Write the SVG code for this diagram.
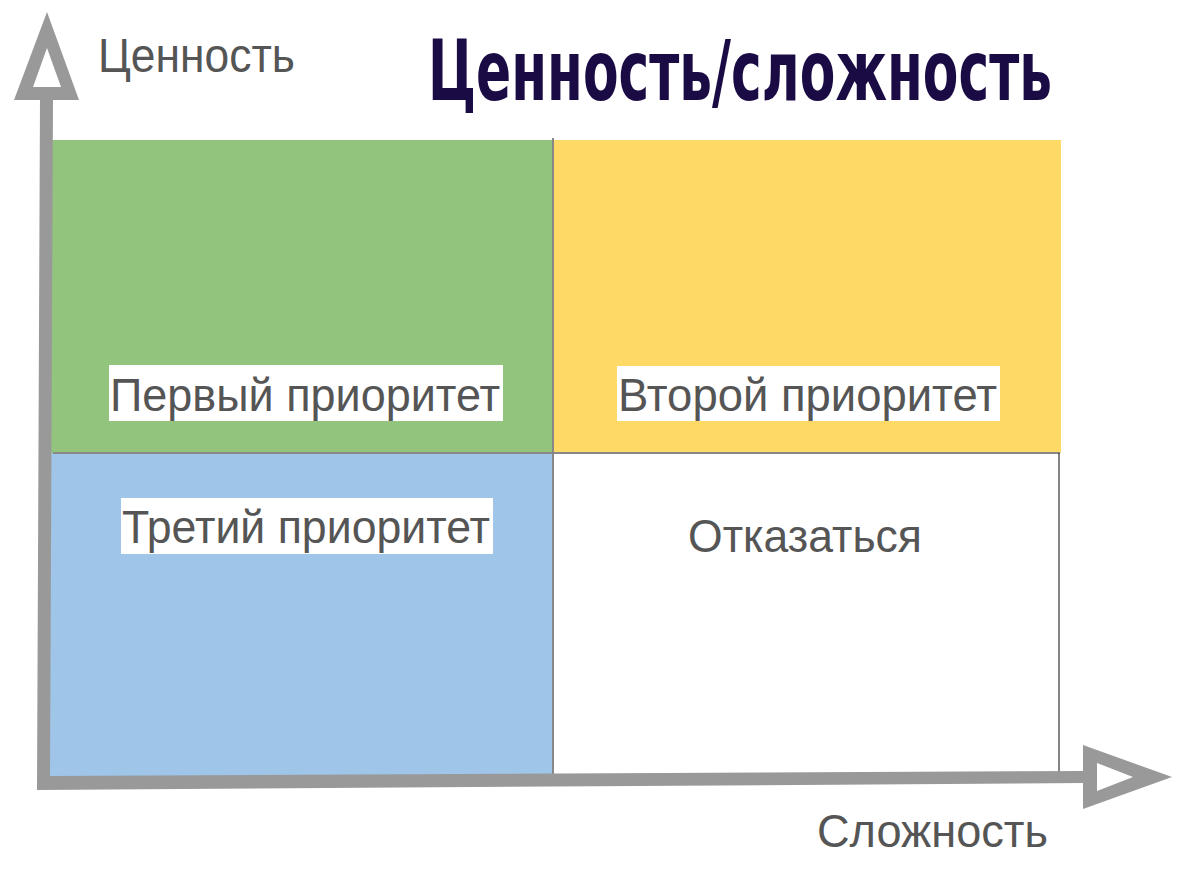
<svg xmlns="http://www.w3.org/2000/svg" width="1200" height="879" viewBox="0 0 1200 879">
<style>
.lbl{font-family:"Liberation Sans","Helvetica Neue",Arial,sans-serif;fill:#555555;font-size:46px}
.box{fill:#ffffff}
.axis{fill:#999999;fill-rule:evenodd}
.div{stroke:#888888;stroke-width:2;fill:none}
</style>
<rect width="1200" height="879" fill="#ffffff"/>
<g id="q-green"><rect x="48" y="140" width="505" height="313" fill="#93C47D"/>
<rect class="box" x="109" y="365" width="394" height="56"/>
<text class="lbl" x="110" y="411" textLength="390" lengthAdjust="spacingAndGlyphs">Первый приоритет</text></g>
<g id="q-yellow"><rect x="553" y="140" width="508" height="313" fill="#FFD966"/>
<rect class="box" x="617" y="366" width="383" height="55"/>
<text class="lbl" x="618" y="411" textLength="379" lengthAdjust="spacingAndGlyphs">Второй приоритет</text></g>
<g id="q-blue"><rect x="46" y="453" width="507" height="323" fill="#9FC5E8"/>
<rect class="box" x="121" y="498" width="372" height="56"/>
<text class="lbl" x="122" y="543" textLength="368" lengthAdjust="spacingAndGlyphs">Третий приоритет</text></g>
<g id="q-white"><rect x="553" y="453" width="506" height="320" fill="#ffffff"/>
<text class="lbl" x="688" y="552" textLength="234" lengthAdjust="spacingAndGlyphs">Отказаться</text></g>
<g id="connectors">
<line class="div" x1="553" y1="138" x2="553" y2="775"/>
<line class="div" x1="53" y1="453" x2="1060" y2="453"/>
<line x1="1059" y1="453" x2="1059" y2="772" stroke="#333333" stroke-width="1.2"/>
<path class="axis" d="M40,98 L53,98 L50,776 L1086,771 L1086,783 L37,790 Z"/>
<path class="axis" d="M47,12 L79,100 L14,100 Z M47,48 L33,87 L61,87 Z"/>
<path class="axis" d="M1083,745 L1172,777 L1083,809 Z M1097,763 L1097,791 L1133,777 Z"/>
</g>
<g id="axis-labels">
<text class="lbl" x="98" y="72" textLength="197" lengthAdjust="spacingAndGlyphs" style="font-size:48px">Ценность</text>
<text class="lbl" x="817" y="847" textLength="231" lengthAdjust="spacingAndGlyphs">Сложность</text>
</g>
<g id="title" transform="translate(428,100) scale(1,1.3)">
<text x="0" y="0" font-family="'Liberation Sans Narrow','DejaVu Sans Condensed','Liberation Sans',sans-serif" font-weight="bold" font-size="64" fill="#1B0B45" textLength="624" lengthAdjust="spacingAndGlyphs">Ценность/сложность</text>
</g>
</svg>
